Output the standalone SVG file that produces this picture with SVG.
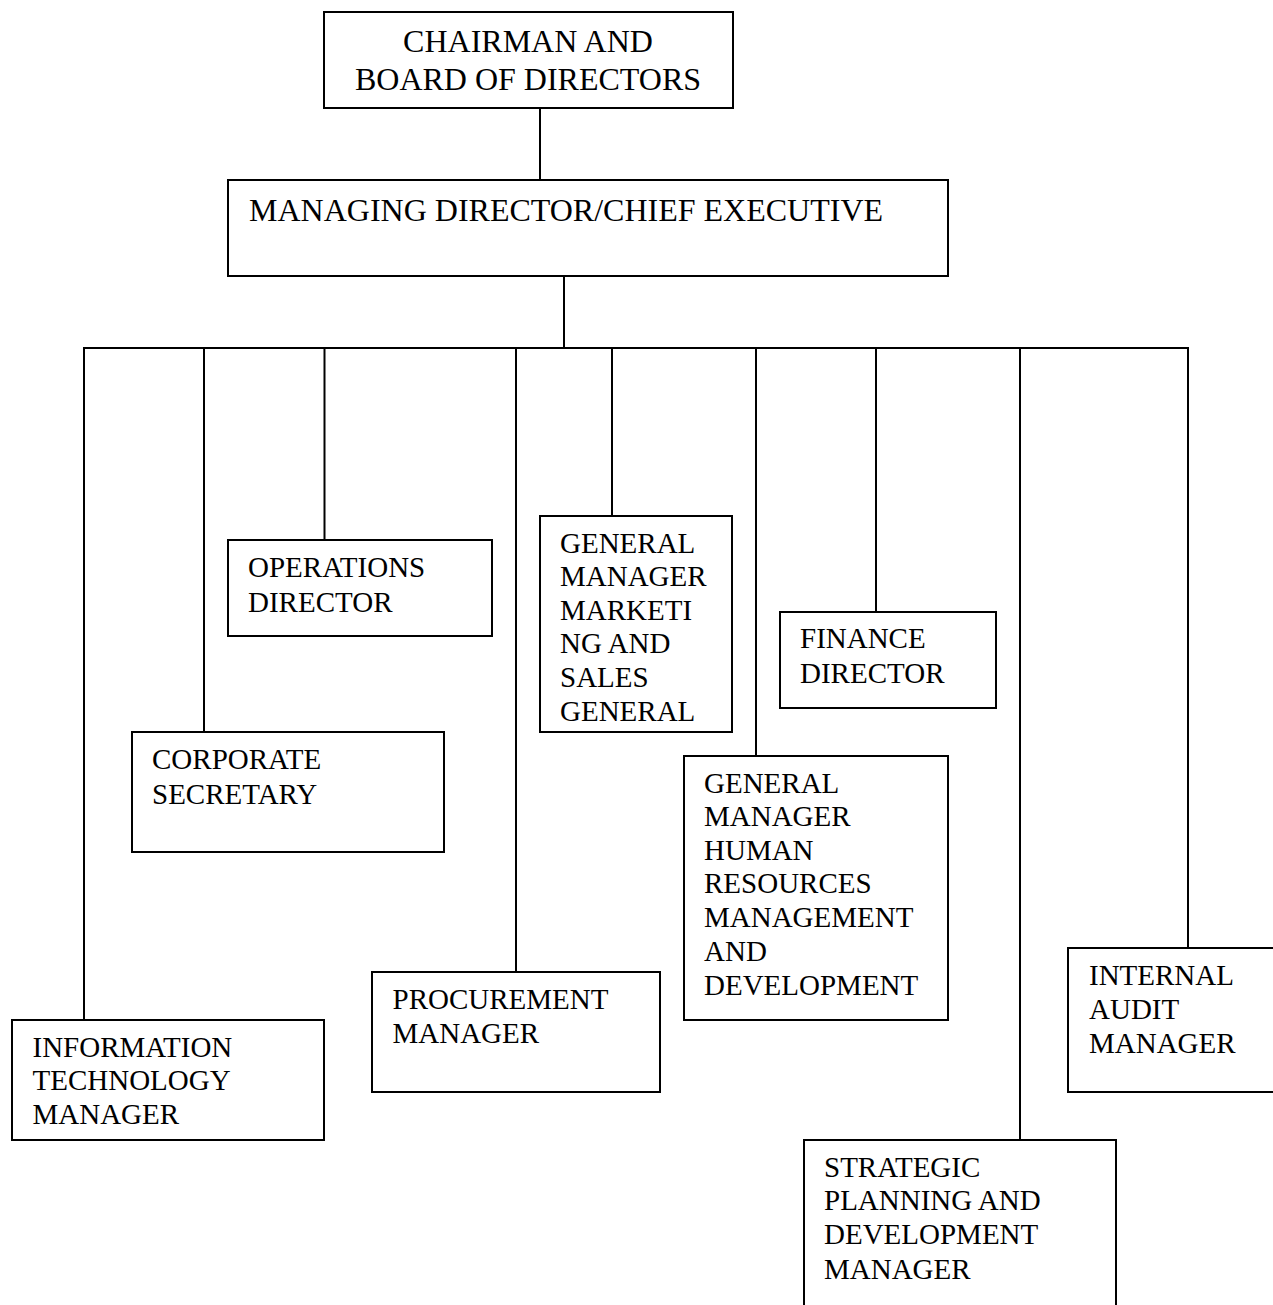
<svg xmlns="http://www.w3.org/2000/svg" width="1273" height="1305" viewBox="0 0 1273 1305">
<style>
.box{fill:#fff;stroke:#000;stroke-width:2}
.ln{stroke:#000;stroke-width:2;fill:none}
text{font-family:"Liberation Serif","Times New Roman",serif;fill:#000}
.t{font-size:29px}
.big{font-size:32px}
</style>
<rect width="1273" height="1305" fill="#fff"/>
<g id="connectors">
<line class="ln" x1="540" y1="108" x2="540" y2="180"/>
<line class="ln" x1="564" y1="276" x2="564" y2="348"/>
<line class="ln" x1="83" y1="348" x2="1189" y2="348"/>
<line class="ln" x1="84" y1="348" x2="84" y2="1020"/>
<line class="ln" x1="204" y1="348" x2="204" y2="732"/>
<line class="ln" x1="324.5" y1="348" x2="324.5" y2="540"/>
<line class="ln" x1="516" y1="348" x2="516" y2="972"/>
<line class="ln" x1="612" y1="348" x2="612" y2="516"/>
<line class="ln" x1="756" y1="348" x2="756" y2="756"/>
<line class="ln" x1="876" y1="348" x2="876" y2="612"/>
<line class="ln" x1="1020" y1="348" x2="1020" y2="1140"/>
<line class="ln" x1="1188" y1="348" x2="1188" y2="948"/>
</g>
<g id="chairman">
<rect class="box" x="324" y="12" width="409" height="96"/>
<text class="big" x="528" y="52" text-anchor="middle">CHAIRMAN AND</text>
<text class="big" x="528" y="90" text-anchor="middle">BOARD OF DIRECTORS</text>
</g>
<g id="md">
<rect class="box" x="228" y="180" width="720" height="96"/>
<text class="big" x="249" y="221">MANAGING DIRECTOR/CHIEF EXECUTIVE</text>
</g>
<g id="operations">
<rect class="box" x="228" y="540" width="264" height="96"/>
<text class="t" x="248" y="577">OPERATIONS</text>
<text class="t" x="248" y="612">DIRECTOR</text>
</g>
<g id="corpsec">
<rect class="box" x="132" y="732" width="312" height="120"/>
<text class="t" x="152" y="769">CORPORATE</text>
<text class="t" x="152" y="804">SECRETARY</text>
</g>
<g id="gm-marketing">
<rect class="box" x="540" y="516" width="192" height="216"/>
<text class="t" x="560" y="553">GENERAL</text>
<text class="t" x="560" y="586">MANAGER</text>
<text class="t" x="560" y="619.5">MARKETI</text>
<text class="t" x="560" y="653">NG AND</text>
<text class="t" x="560" y="687">SALES</text>
<text class="t" x="560" y="721">GENERAL</text>
</g>
<g id="finance">
<rect class="box" x="780" y="612" width="216" height="96"/>
<text class="t" x="800" y="648">FINANCE</text>
<text class="t" x="800" y="683">DIRECTOR</text>
</g>
<g id="gm-hr">
<rect class="box" x="684" y="756" width="264" height="264"/>
<text class="t" x="704" y="792.5">GENERAL</text>
<text class="t" x="704" y="826">MANAGER</text>
<text class="t" x="704" y="859.5">HUMAN</text>
<text class="t" x="704" y="893">RESOURCES</text>
<text class="t" x="704" y="927">MANAGEMENT</text>
<text class="t" x="704" y="960.5">AND</text>
<text class="t" x="704" y="995">DEVELOPMENT</text>
</g>
<g id="it">
<rect class="box" x="12" y="1020" width="312" height="120"/>
<text class="t" x="32.5" y="1057">INFORMATION</text>
<text class="t" x="32.5" y="1090">TECHNOLOGY</text>
<text class="t" x="32.5" y="1123.5">MANAGER</text>
</g>
<g id="procurement">
<rect class="box" x="372" y="972" width="288" height="120"/>
<text class="t" x="392.5" y="1009">PROCUREMENT</text>
<text class="t" x="392.5" y="1043">MANAGER</text>
</g>
<g id="audit">
<rect class="box" x="1068" y="948" width="240" height="144"/>
<text class="t" x="1089" y="985">INTERNAL</text>
<text class="t" x="1089" y="1018.5">AUDIT</text>
<text class="t" x="1089" y="1053">MANAGER</text>
</g>
<g id="strategic">
<rect class="box" x="804" y="1140" width="312" height="200"/>
<text class="t" x="824" y="1177">STRATEGIC</text>
<text class="t" x="824" y="1210">PLANNING AND</text>
<text class="t" x="824" y="1244">DEVELOPMENT</text>
<text class="t" x="824" y="1279">MANAGER</text>
</g>
</svg>
